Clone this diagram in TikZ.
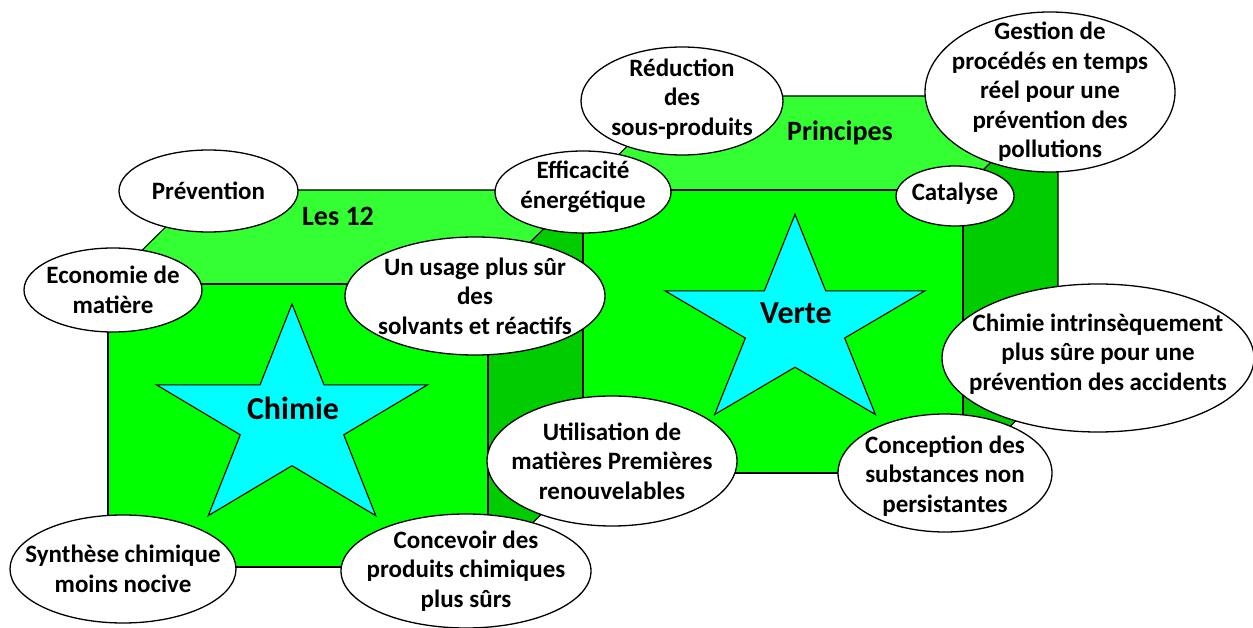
\documentclass[tikz,border=0pt]{standalone}
\usepackage{fontspec}
\setmainfont{Carlito}
\usetikzlibrary{shapes.geometric}
\definecolor{frontgreen}{RGB}{0,255,0}
\definecolor{topgreen}{RGB}{51,255,51}
\definecolor{sidegreen}{RGB}{0,204,0}
\definecolor{starcyan}{RGB}{0,255,255}
\def\addcube#1#2{%
  \draw[face, fill=topgreen] (#1,#2) -- ++(95,-94) -- ++(380,0) -- ++(-95,94) -- cycle;
  \draw[face, fill=sidegreen] ({#1+380},#2) -- ++(95,-94) -- ++(0,283) -- ++(-95,94) -- cycle;
  \draw[face, fill=frontgreen] (#1,#2) rectangle ++(380,283);}
\def\addstar#1#2#3#4#5#6{%
  \begin{scope}[shift={(#1,#2)}]
    \draw[starface] (270:#3 and #4)
      \foreach \a in {0,72,...,288} {-- (\a+306:#5 and #6) -- (\a+342:#3 and #4)} -- cycle;
  \end{scope}}

\begin{document}
\begin{tikzpicture}[x=1pt,y=-1pt,
        face/.style={draw=black, line width=1.1pt, line join=round},
        starface/.style={draw=black, line width=1.1pt, fill=starcyan, line join=miter},
        bubble/.style={ellipse, draw=black, line width=1.3pt, fill=white, inner sep=0pt},
        bubbletext/.style={align=center, font=\bfseries\fontsize{25}{29.5}\selectfont},
        boxlabel/.style={font=\bfseries\fontsize{28}{32}\selectfont},
        starlabel/.style={font=\bfseries\fontsize{32}{36}\selectfont}]
\useasboundingbox (0,0) rectangle (1253,628);

\addcube{108}{284}
\addcube{583}{190}
\addstar{292}{421}{142.5}{117}{54.4}{44.7}
\addstar{795}{325}{136.7}{110.6}{52.2}{42.2}

\node[boxlabel] (les12) at (338,216) {Les 12};
\node[boxlabel] (principes) at (840,133) {Principes};
\node[starlabel] (chimie) at (293,408) {Chimie};
\node[starlabel] (verte) at (796,313) {Verte};

\node[bubble, minimum width=179pt, minimum height=82pt,
      label={[bubbletext]center:Prévention}] (prevention) at (208.5,191) {};
\node[bubble, minimum width=178pt, minimum height=84pt,
      label={[bubbletext]center:Economie de\\matière}] (economie) at (113,290) {};
\node[bubble, minimum width=260pt, minimum height=118pt,
      label={[bubbletext]center:Un usage plus sûr\\des\\solvants et réactifs}] (usage) at (475,296) {};
\node[bubble, minimum width=176pt, minimum height=82pt,
      label={[bubbletext, yshift=5pt]center:Efficacité\\énergétique}] (efficacite) at (583,192) {};
\node[bubble, minimum width=202pt, minimum height=108pt,
      label={[bubbletext, yshift=2pt]center:Réduction\\des\\sous-produits}] (reduction) at (682,101) {};
\node[bubble, minimum width=250pt, minimum height=160pt,
      label={[bubbletext]center:Gestion de\\procédés en temps\\réel pour une\\prévention des\\pollutions}] (gestion) at (1050,92) {};
\node[bubble, minimum width=118pt, minimum height=60pt,
      label={[bubbletext, yshift=2pt]center:Catalyse}] (catalyse) at (955,196) {};
\node[bubble, minimum width=312pt, minimum height=148pt,
      label={[bubbletext, yshift=4pt]center:Chimie intrinsèquement\\plus sûre pour une\\prévention des accidents}] (intrinseque) at (1098,358) {};
\node[bubble, minimum width=214pt, minimum height=118pt,
      label={[bubbletext, yshift=-3pt]center:Conception des\\substances non\\persistantes}] (conception) at (945,473) {};
\node[bubble, minimum width=250pt, minimum height=130pt,
      label={[bubbletext]center:Utilisation de\\matières Premières\\renouvelables}] (utilisation) at (612,461) {};
\node[bubble, minimum width=250pt, minimum height=114pt,
      label={[bubbletext]center:Concevoir des\\produits chimiques\\plus sûrs}] (concevoir) at (466,571) {};
\node[bubble, minimum width=226pt, minimum height=108pt,
      label={[bubbletext]center:Synthèse chimique\\moins nocive}] (synthese) at (123,569) {};
\end{tikzpicture}
\end{document}
